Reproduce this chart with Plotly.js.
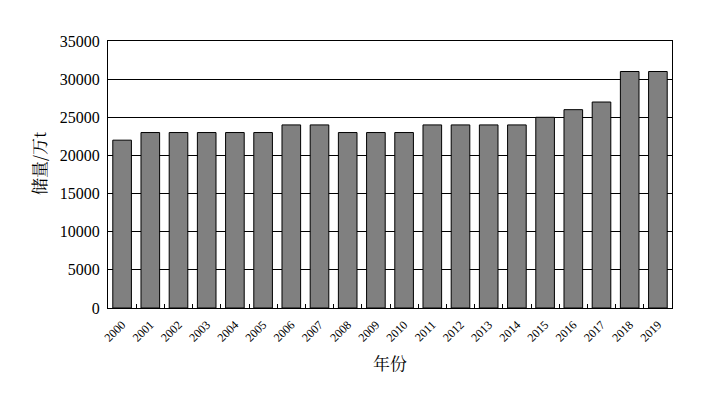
<!DOCTYPE html>
<html><head><meta charset="utf-8">
<script src="https://cdn.plot.ly/plotly-3.0.1.min.js"></script>
<style>body{margin:0;background:#fff}#c{width:721px;height:406px}</style>
</head><body><div id="c"></div>
<script>
const years = ['2000','2001','2002','2003','2004','2005','2006','2007','2008','2009','2010','2011','2012','2013','2014','2015','2016','2017','2018','2019'];
const reserves = [22000,23000,23000,23000,23000,23000,24000,24000,23000,23000,23000,24000,24000,24000,24000,25000,26000,27000,31000,31000];
const yTicks = [0,5000,10000,15000,20000,25000,30000,35000];

Plotly.newPlot('c', [{
  type:'bar', x: years, y: reserves,
  marker:{color:'#808080', line:{color:'#000', width:1}},
  hoverinfo:'none'
}], {
  width:721, height:406,
  margin:{l:108, r:49, t:41, b:98},
  paper_bgcolor:'#fff', plot_bgcolor:'#fff',
  bargap:0.34,
  showlegend:false,
  font:{family:'Liberation Serif, serif', color:'#000'},
  xaxis:{
    type:'category', tickangle:-45,
    tickfont:{size:12, family:'Liberation Serif'},
    ticks:'inside', ticklen:4, tickson:'boundaries', tickcolor:'#000',
    ticklabelstandoff:4,
    showline:true, linecolor:'#000', linewidth:1, mirror:true,
    title:{text:'年份', font:{size:17, family:'Noto Serif CJK SC, Noto Sans CJK SC'}, standoff:14}
  },
  yaxis:{
    range:[0,35000], tickvals:yTicks, ticktext:yTicks.map(String),
    tickfont:{size:16, family:'Liberation Serif'},
    ticks:'inside', ticklen:5, tickcolor:'#000',
    ticklabelstandoff:4,
    showgrid:true, gridcolor:'#000', gridwidth:1,
    showline:true, linecolor:'#000', linewidth:1, mirror:'ticks',
    zeroline:false
  },
  annotations:[{
    text:'储量/万t', textangle:-90, showarrow:false,
    xref:'paper', yref:'paper', x:(38-108)/564, y:(308-163)/267,
    xanchor:'center', yanchor:'middle',
    font:{size:17, family:'Noto Serif CJK SC, Noto Sans CJK SC', color:'#000'}
  }]
}, {displayModeBar:false, staticPlot:true});
</script></body></html>
